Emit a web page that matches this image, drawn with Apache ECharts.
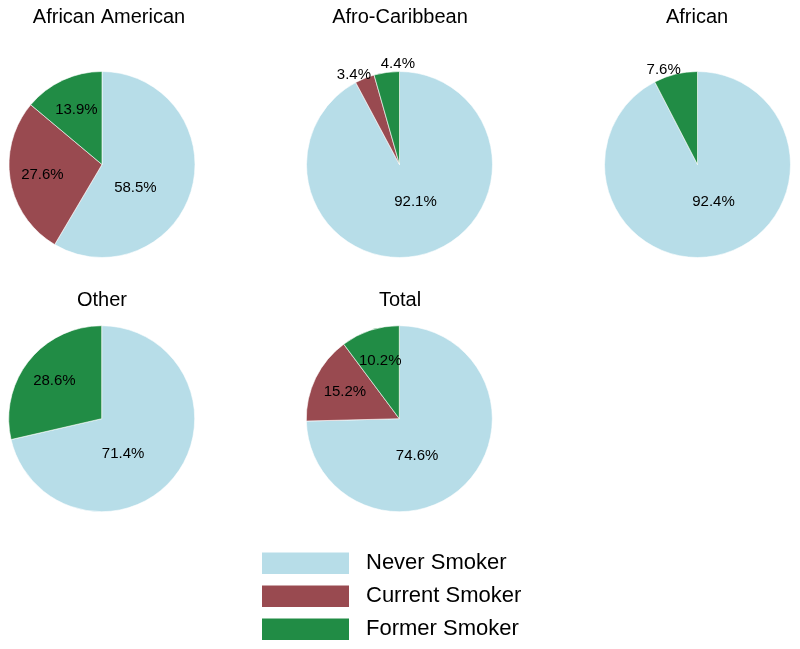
<!DOCTYPE html>
<html>
<head>
<meta charset="utf-8">
<script src="https://cdn.jsdelivr.net/npm/echarts@6/dist/echarts.min.js"></script>
<style>
  html, body { margin: 0; padding: 0; background: #fff; }
  #chart { width: 800px; height: 649px; }
</style>
</head>
<body>
<div id="chart"></div>
<script>
// smoking status share (%) by group
var categories = ['Never Smoker', 'Current Smoker', 'Former Smoker']
var groups = ['African American', 'Afro-Caribbean', 'African', 'Other', 'Total']
var neverSmoker = [58.5, 92.1, 92.4, 71.4, 74.6]
var currentSmoker = [27.6, 3.4, 0, 0, 15.2]
var formerSmoker = [13.9, 4.4, 7.6, 28.6, 10.2]

var colors = ['#b7dde8', '#994a50', '#218c45']
var font = 'Liberation Sans, Arial, sans-serif'

// layout of the five pies
var centers = [[102, 164.5], [399.5, 164.5], [697.5, 164.5], [101.7, 418.7], [399.3, 418.7]]
var titleX = [109, 400, 697, 102, 400]
var titleY = [7, 7, 7, 290, 290]
var R = 93
// angle nudge (deg) for the small labels that sit outside the pie, by pie and category
var outerNudge = [[0, 0, 0], [0, -5, 7], [0, 0, -6], [0, 0, 0], [0, 0, 0]]

// slice data per pie, zero shares dropped
var pieData = groups.map(function (g, k) {
  var vals = [neverSmoker[k], currentSmoker[k], formerSmoker[k]]
  var list = []
  vals.forEach(function (v, i) {
    if (v > 0) list.push({ name: categories[i], value: v, cat: i, itemStyle: { color: colors[i] } })
  })
  return list
})

// label placement similar to the "best fit" look of the original
function labelPos(s, i) {
  var d = pieData[s]
  var total = 0, before = 0
  d.forEach(function (it, j) { total += it.value; if (j < i) before += it.value })
  var share = d[i].value / total
  var a = (before + d[i].value / 2) / total * 360
  var dist
  if (share > 0.5) {
    a = Math.min(a + 20, 157)
    dist = 0.44 * R
  } else if (share < 0.08) {
    a += outerNudge[s][d[i].cat]
    dist = 1.08 * R
  } else {
    dist = 0.65 * R
  }
  var rad = a * Math.PI / 180
  return { x: centers[s][0] + dist * Math.sin(rad), y: centers[s][1] - dist * Math.cos(rad) }
}

var chart = echarts.init(document.getElementById('chart'))

var option = {
  animation: false,
  title: groups.map(function (g, k) {
    return {
      text: g,
      left: titleX[k],
      top: titleY[k],
      textAlign: 'center',
      padding: 0,
      textStyle: { fontFamily: font, fontSize: 20, fontWeight: 'normal', color: '#000' }
    }
  }),
  legend: {
    data: categories,
    orient: 'vertical',
    left: 260,
    top: 550.5,
    padding: 0,
    icon: 'rect',
    itemWidth: 89,
    itemHeight: 23.5,
    itemGap: 7.5,
    textStyle: { fontFamily: font, fontSize: 22, color: '#000', padding: [0, 0, 0, 11] }
  },
  series: pieData.map(function (d, k) {
    return {
      type: 'pie',
      name: groups[k],
      center: centers[k],
      radius: R,
      startAngle: 90,
      clockwise: true,
      silent: true,
      data: d,
      itemStyle: { borderColor: '#fff', borderWidth: 0.6 },
      label: {
        show: true,
        position: 'inside',
        fontFamily: font,
        fontSize: 15,
        color: '#000',
        formatter: function (p) { return p.value.toFixed(1) + '%' }
      },
      labelLine: { show: false },
      labelLayout: function (params) {
        var p = labelPos(params.seriesIndex, params.dataIndex)
        return { x: p.x, y: p.y, align: 'center', verticalAlign: 'middle' }
      }
    }
  })
}

chart.setOption(option)
</script>
</body>
</html>
